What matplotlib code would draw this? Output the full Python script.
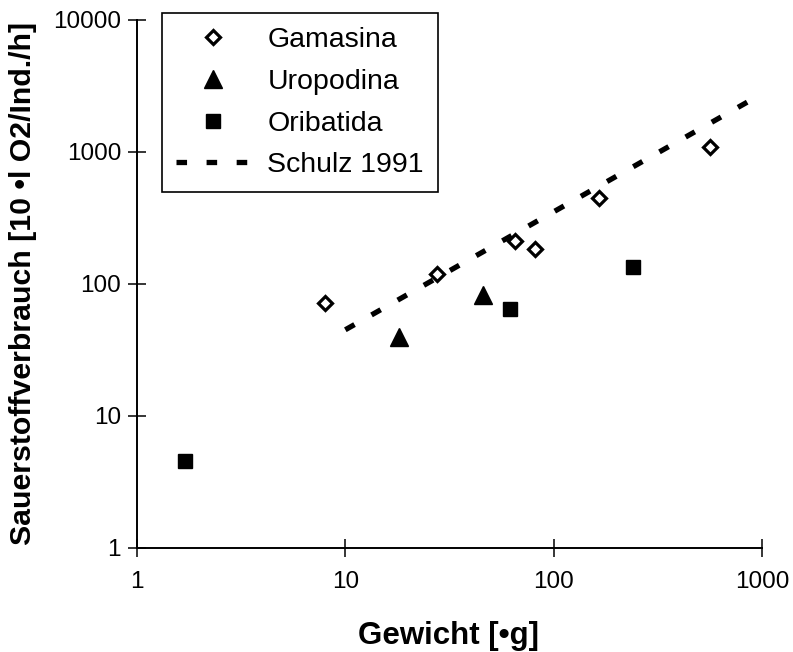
"""Sauerstoffverbrauch vs. Gewicht (log-log) for three mite groups"""
import matplotlib
matplotlib.use("Agg")
import matplotlib.pyplot as plt
import matplotlib.ticker as mticker

plt.rcParams['font.family'] = ['Liberation Sans', 'DejaVu Sans']

# data
gamasina_x = [8, 27.5, 65, 81, 165, 565]
gamasina_y = [72, 120, 210, 185, 450, 1100]
uropodina_x = [18, 46]
uropodina_y = [40, 82]
oribatida_x = [1.7, 62, 240]
oribatida_y = [4.6, 65, 135]
schulz_x = [10, 855]
schulz_y = [45, 2400]

x_ticks = [1, 10, 100, 1000]
y_ticks = [1, 10, 100, 1000, 10000]

fig = plt.figure(figsize=(7.93, 6.52), dpi=100)
ax = fig.add_axes([137 / 793, 1 - 548 / 652, (762 - 137) / 793, (548 - 20) / 652])

ax.plot(gamasina_x, gamasina_y, linestyle='none', marker='D', markersize=7.5,
        markerfacecolor='white', markeredgecolor='black', markeredgewidth=2.3,
        label='Gamasina', clip_on=False)
ax.plot(uropodina_x, uropodina_y, linestyle='none', marker='^', markersize=13,
        color='black', label='Uropodina', clip_on=False)
ax.plot(oribatida_x, oribatida_y, linestyle='none', marker='s', markersize=10.5,
        color='black', label='Oribatida', clip_on=False)
ax.plot(schulz_x, schulz_y, color='black', linewidth=3.8, dashes=(2.0, 3.7),
        label='Schulz 1991')

ax.set_xscale('log')
ax.set_yscale('log')
ax.set_xlim(1, 1000)
ax.set_ylim(1, 10000)
ax.xaxis.set_major_locator(mticker.FixedLocator(x_ticks))
ax.yaxis.set_major_locator(mticker.FixedLocator(y_ticks))
ax.xaxis.set_minor_locator(mticker.NullLocator())
ax.yaxis.set_minor_locator(mticker.NullLocator())
ax.xaxis.set_major_formatter(mticker.FixedFormatter([str(v) for v in x_ticks]))
ax.yaxis.set_major_formatter(mticker.FixedFormatter([str(v) for v in y_ticks]))

for side in ('top', 'right'):
    ax.spines[side].set_visible(False)
for side in ('left', 'bottom'):
    ax.spines[side].set_linewidth(1.4)
    ax.spines[side].set_clip_on(False)
ax.tick_params(axis='both', direction='inout', length=13, width=1.1, labelsize=17.5)
ax.tick_params(axis='y', pad=5)
ax.tick_params(axis='x', pad=10)

fig.text(449 / 793, 1 - 636 / 652, 'Gewicht [•g]', ha='center', va='center',
         fontsize=22.5, fontweight='bold')
fig.text(23 / 793, 1 - 283 / 652, 'Sauerstoffverbrauch [10 •l O2/Ind./h]',
         ha='center', va='center', rotation=90, fontsize=21.8, fontweight='bold')

leg = ax.legend(loc='upper left', bbox_to_anchor=(162 / 793, 1 - 13 / 652),
                bbox_transform=fig.transFigure, borderaxespad=0, fontsize=20.5,
                frameon=True, fancybox=False, edgecolor='black', framealpha=1,
                handlelength=2.6, handletextpad=0.6, borderpad=0.5,
                labelspacing=0.55)
leg.get_frame().set_linewidth(1.2)

fig.savefig('out.png', dpi=100)
